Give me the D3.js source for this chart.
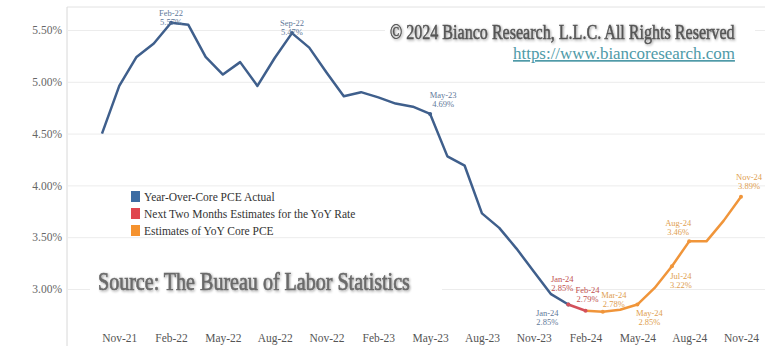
<!DOCTYPE html>
<html>
<head>
<meta charset="utf-8">
<script src="https://cdn.jsdelivr.net/npm/d3@7"></script>
<style>
  body { margin: 0; background: #fff; }
  svg { display: block; }
</style>
</head>
<body>
<div id="chart"></div>
<script>
// months on the x axis, Oct-21 .. Nov-24
const months = ["Oct-21","Nov-21","Dec-21","Jan-22","Feb-22","Mar-22","Apr-22","May-22","Jun-22","Jul-22","Aug-22","Sep-22",
  "Oct-22","Nov-22","Dec-22","Jan-23","Feb-23","Mar-23","Apr-23","May-23","Jun-23","Jul-23","Aug-23","Sep-23",
  "Oct-23","Nov-23","Dec-23","Jan-24","Feb-24","Mar-24","Apr-24","May-24","Jun-24","Jul-24","Aug-24","Sep-24",
  "Oct-24","Nov-24"];
const tickMonths = ["Nov-21","Feb-22","May-22","Aug-22","Nov-22","Feb-23","May-23","Aug-23","Nov-23","Feb-24","May-24","Aug-24","Nov-24"];
const yTicks = [3.0, 3.5, 4.0, 4.5, 5.0, 5.5];

// Year-over-year core PCE actual
const actualMonths = months.slice(0, 28);
const actualValues = [4.50, 4.96, 5.24, 5.37, 5.57, 5.55, 5.24, 5.07, 5.19, 4.96, 5.23, 5.47,
  5.33, 5.09, 4.86, 4.90, 4.85, 4.79, 4.76, 4.69, 4.28, 4.19, 3.73, 3.59, 3.39, 3.17, 2.95, 2.85];
// next two months estimates
const nextMonths = ["Jan-24","Feb-24"];
const nextValues = [2.85, 2.79];
// estimates of core PCE
const estMonths = ["Feb-24","Mar-24","Apr-24","May-24","Jun-24","Jul-24","Aug-24","Sep-24","Oct-24","Nov-24"];
const estValues = [2.79, 2.78, 2.80, 2.85, 3.01, 3.22, 3.46, 3.46, 3.66, 3.89];

const legendKeys = ["Year-Over-Core PCE Actual", "Next Two Months Estimates for the YoY Rate", "Estimates of YoY Core PCE"];

// labelled points
const annMonths = ["Feb-22","Sep-22","May-23","Jan-24","Jan-24","Feb-24","Mar-24","May-24","Jul-24","Aug-24","Nov-24"];
const annValues = [5.57, 5.47, 4.69, 2.85, 2.85, 2.79, 2.78, 2.85, 3.22, 3.46, 3.89];
const annSeries = ["a","a","a","a","n","n","e","e","e","e","e"];

var colorLine = {a: "#3f5f8c", n: "#d4505a", e: "#f0953a"};
var colorLabel = {a: "#5f7a9a", n: "#c0504f", e: "#e0a050"};
var colorLegend = ["#3d6ca3", "#e0464f", "#f5922e"];
// label offsets (dx, dy of the upper line) for each labelled point
var annOffset = [[0,-7],[0,-7],[13,-16],[-21,11],[-6,-23],[2,-18],[11,-14],[12,11],[9,13],[-11,-15],[8,-17]];

var width = 765, height = 347;
var svg = d3.select("#chart").append("svg")
  .attr("width", width)
  .attr("height", height)
  .attr("font-family", "'Liberation Serif', 'DejaVu Serif', serif");

const x = d3.scalePoint()
  .domain(months)
  .range([102, 741]);

const y = d3.scaleLinear()
  .domain([3.0, 5.5])
  .range([289, 30]);

// top border + y axis line
svg.append("line")
  .attr("x1", 67).attr("x2", width)
  .attr("y1", 7).attr("y2", 7)
  .style("stroke", "#e2e2e2");
svg.append("line")
  .attr("x1", 67).attr("x2", 67)
  .attr("y1", 7).attr("y2", 346)
  .style("stroke", "#d8d8d8");

// gridlines + y labels
var yAxis = svg.append("g")
  .attr("transform", "translate(67,0)")
  .call(d3.axisLeft(y).tickValues(yTicks).tickSize(-(width - 67)).tickPadding(5)
    .tickFormat(d => d3.format(".2f")(d) + "%"));
yAxis.select(".domain").remove();
yAxis.selectAll("line").style("stroke", "#ececec");
yAxis.selectAll("text")
  .attr("font-size", "11.5px")
  .attr("font-family", "'Liberation Serif', serif")
  .style("fill", "#666");

// x labels
var xAxis = svg.append("g")
  .attr("transform", "translate(0,326)")
  .call(d3.axisBottom(x).tickValues(tickMonths).tickSize(0).tickPadding(8));
xAxis.select(".domain").remove();
xAxis.selectAll("text")
  .attr("font-size", "11.5px")
  .attr("font-family", "'Liberation Serif', serif")
  .style("fill", "#555");

// white boxes behind the watermark texts
svg.append("rect")
  .attr("x", 385).attr("y", 14)
  .attr("width", 370).attr("height", 52)
  .style("fill", "#fff");
svg.append("rect")
  .attr("x", 90).attr("y", 258)
  .attr("width", 352).attr("height", 46)
  .style("fill", "#fff");

// lines
var line = d3.line()
  .x(d => x(d[0]))
  .y(d => y(d[1]));

svg.append("path")
  .datum(d3.zip(actualMonths, actualValues))
  .attr("d", line)
  .style("fill", "none")
  .style("stroke", colorLine.a)
  .style("stroke-width", 2.5)
  .style("stroke-linejoin", "round");
svg.append("path")
  .datum(d3.zip(estMonths, estValues))
  .attr("d", line)
  .style("fill", "none")
  .style("stroke", colorLine.e)
  .style("stroke-width", 2.5)
  .style("stroke-linejoin", "round");
svg.append("path")
  .datum(d3.zip(nextMonths, nextValues))
  .attr("d", line)
  .style("fill", "none")
  .style("stroke", colorLine.n)
  .style("stroke-width", 2.5)
  .style("stroke-linejoin", "round");

// small markers + labels
var ann = svg.selectAll(".ann")
  .data(annMonths.map((m, i) => ({m: m, v: annValues[i], s: annSeries[i], off: annOffset[i]})))
  .enter().append("g")
  .attr("class", "ann");
ann.append("circle")
  .attr("cx", d => x(d.m))
  .attr("cy", d => y(d.v))
  .attr("r", 2)
  .style("fill", d => colorLine[d.s]);
ann.append("text")
  .attr("x", d => x(d.m) + d.off[0])
  .attr("y", d => y(d.v) + d.off[1])
  .attr("text-anchor", "middle")
  .attr("font-size", "8.5px")
  .style("fill", d => colorLabel[d.s])
  .text(d => d.m);
ann.append("text")
  .attr("x", d => x(d.m) + d.off[0])
  .attr("y", d => y(d.v) + d.off[1] + 9)
  .attr("text-anchor", "middle")
  .attr("font-size", "8.5px")
  .style("fill", d => colorLabel[d.s])
  .text(d => d3.format(".2f")(d.v) + "%");

// legend
var leg = svg.selectAll(".leg")
  .data(legendKeys)
  .enter().append("g")
  .attr("class", "leg")
  .attr("transform", (d, i) => "translate(131," + (191 + i * 17) + ")");
leg.append("rect")
  .attr("width", 9)
  .attr("height", 11)
  .style("fill", (d, i) => colorLegend[i]);
leg.append("text")
  .attr("x", 13)
  .attr("y", 9.5)
  .attr("font-size", "11.5px")
  .style("fill", "#333")
  .text(d => d);

// watermark texts
var defs = svg.append("defs");
var f = defs.append("filter").attr("id", "soft").attr("x", "-5%").attr("y", "-30%").attr("width", "110%").attr("height", "160%");
f.append("feGaussianBlur").attr("in", "SourceAlpha").attr("stdDeviation", 1.6).attr("result", "b");
f.append("feOffset").attr("in", "b").attr("dx", 1).attr("dy", 1).attr("result", "o");
f.append("feComponentTransfer").attr("in", "o").attr("result", "s")
  .append("feFuncA").attr("type", "linear").attr("slope", 0.4);
var fm = f.append("feMerge");
fm.append("feMergeNode").attr("in", "s");
fm.append("feMergeNode").attr("in", "SourceGraphic");

// squeeze a text horizontally so it spans w pixels (the reference is squashed)
function squeeze(g, w){
    var t = g.select("text");
    var k = w / t.node().getComputedTextLength();
    g.attr("transform", g.attr("transform") + " scale(" + k + ",1)");
}

var gSource = svg.append("g").attr("transform", "translate(98,290)");
gSource.append("text")
  .attr("font-size", "26px")
  .style("fill", "#6a6a6a")
  .style("stroke", "#6a6a6a")
  .style("stroke-width", 0.7)
  .attr("filter", "url(#soft)")
  .text("Source: The Bureau of Labor Statistics");
squeeze(gSource, 312);

var gCopy = svg.append("g").attr("transform", "translate(390,39)");
gCopy.append("text")
  .attr("font-size", "20px")
  .style("fill", "#555")
  .style("stroke", "#555")
  .style("stroke-width", 0.5)
  .attr("filter", "url(#soft)")
  .text("\u00a9 2024 Bianco Research, L.L.C. All Rights Reserved");
squeeze(gCopy, 345);

var gUrl = svg.append("g").attr("transform", "translate(513,59)");
gUrl.append("text")
  .attr("font-size", "17px")
  .attr("text-decoration", "underline")
  .style("fill", "#4f9aa8")
  .text("https://www.biancoresearch.com");
squeeze(gUrl, 222);
</script>
</body>
</html>
